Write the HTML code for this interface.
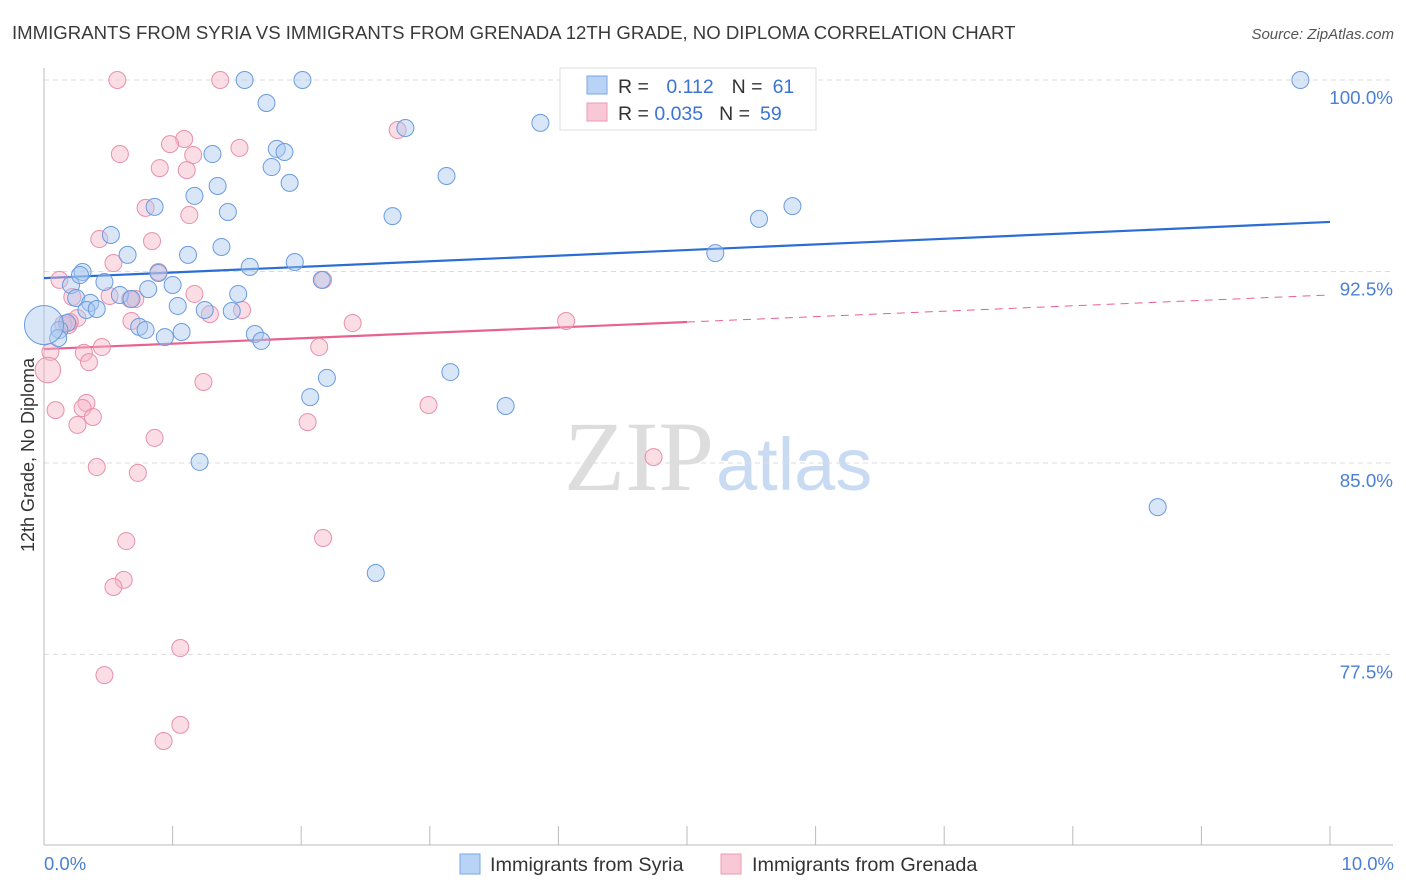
<!DOCTYPE html>
<html><head><meta charset="utf-8"><style>
body{margin:0;background:#fff;font-family:"Liberation Sans",sans-serif;}
svg{display:block}
</style></head><body>
<svg id="chart" width="1406" height="892" xmlns="http://www.w3.org/2000/svg">
<text x="12" y="39" font-size="18.6" fill="#3a3a3a">IMMIGRANTS FROM SYRIA VS IMMIGRANTS FROM GRENADA 12TH GRADE, NO DIPLOMA CORRELATION CHART</text>
<text x="1394" y="39" font-size="15" fill="#555" text-anchor="end" font-style="italic">Source: ZipAtlas.com</text>
<text x="714" y="490" font-size="100" text-anchor="end" fill="#ddd" font-family="Liberation Serif">ZIP</text>
<text x="716" y="490" font-size="74" fill="#c9dbf2">atlas</text>
<g id="grid"></g>
<g id="axes"></g>
<g id="trend"></g>
<g id="points"></g>
<text transform="translate(34,455) rotate(-90)" font-size="18" fill="#333" text-anchor="middle">12th Grade, No Diploma</text>
<text x="44" y="870" font-size="18.5" fill="#4a7fd4">0.0%</text>
<text x="1394" y="870" font-size="18.5" fill="#4a7fd4" text-anchor="end">10.0%</text>
<g>
<rect x="560" y="68" width="256" height="62" fill="#fff" stroke="#ddd"/>
<rect x="587" y="76" width="20" height="18" fill="#b8d3f5" stroke="#7aa6e6"/>
<rect x="587" y="103" width="20" height="18" fill="#f8c8d6" stroke="#ee9ab3"/>
<text x="618" y="93" font-size="19.5" fill="#333">R = <tspan fill="#3a74d4" dx="12">0.112</tspan><tspan fill="#333" dx="18">N =</tspan><tspan fill="#3a74d4" dx="10">61</tspan></text>
<text x="618" y="120" font-size="19.5" fill="#333">R = <tspan fill="#3a74d4">0.035</tspan><tspan fill="#333" dx="16">N =</tspan><tspan fill="#3a74d4" dx="10">59</tspan></text>
</g>
<g>
<rect x="460" y="854" width="20" height="20" fill="#b8d3f5" stroke="#7aa6e6"/>
<text x="490" y="871" font-size="19.8" fill="#333">Immigrants from Syria</text>
<rect x="721" y="854" width="20" height="20" fill="#f8c8d6" stroke="#ee9ab3"/>
<text x="752" y="871" font-size="19.8" fill="#333">Immigrants from Grenada</text>
</g>
</svg>
<script>
const yTicks=[100,92.5,85,77.5];
const yTickLabels=["100.0%","92.5%","85.0%","77.5%"];
const xTicks=[0,1,2,3,4,5,6,7,8,9,10];
const syriaX=[1.56,2.01,1.73,2.81,3.86,1.31,1.81,1.87,1.77,1.91,1.35,1.17,3.13,0.86,1.43,2.71,5.56,5.82,0.52,1.38,0.65,1.12,5.22,1.60,1.95,0.30,0.89,2.16,0.21,0.47,1.00,0.59,0.81,1.51,0.25,0.36,0.68,1.04,1.25,1.46,0.33,0.41,0.74,0.79,0.94,1.07,1.64,1.69,0.18,0.12,0.11,0.0,2.20,2.07,3.16,3.59,1.21,8.66,2.58,9.77,0.28];
const syriaY=[100,100,99.10,98.12,98.32,97.10,97.30,97.18,96.59,95.97,95.85,95.46,96.24,95.03,94.83,94.67,94.56,95.06,93.93,93.46,93.15,93.15,93.22,92.68,92.87,92.48,92.44,92.17,91.97,92.09,91.97,91.58,91.81,91.62,91.46,91.27,91.42,91.15,90.99,90.95,90.99,91.03,90.33,90.21,89.93,90.13,90.05,89.78,90.48,90.21,89.89,90.40,88.33,87.58,88.56,87.23,85.04,83.27,80.69,100,92.36];
const syriaSize=[1,1,1,1,1,1,1,1,1,1,1,1,1,1,1,1,1,1,1,1,1,1,1,1,1,1,1,1,1,1,1,1,1,1,1,1,1,1,1,1,1,1,1,1,1,1,1,1,1,1,1,2.3,1,1,1,1,1,1,1,1,1];
const grenX=[0.57,1.37,0.59,1.09,0.98,1.16,1.52,0.90,1.11,0.79,1.13,0.43,0.84,0.54,0.12,0.89,2.17,2.75,0.22,0.51,0.67,0.71,1.17,1.29,1.54,0.68,0.26,0.19,0.15,2.40,4.06,0.45,0.31,0.35,0.05,0.03,1.24,2.14,0.33,0.30,0.09,0.38,0.26,2.99,2.05,0.86,0.41,0.73,4.74,0.64,2.17,0.62,0.54,1.06,0.47,1.06,0.93,0.20];
const grenY=[100,100,97.10,97.69,97.49,97.06,97.34,96.55,96.47,94.99,94.71,93.77,93.69,92.83,92.17,92.48,92.17,98.04,91.50,91.54,91.42,91.42,91.62,90.83,90.99,90.56,90.68,90.40,90.44,90.48,90.56,89.54,89.31,88.95,89.35,88.64,88.17,89.54,87.35,87.15,87.07,86.80,86.49,87.27,86.60,85.98,84.84,84.61,85.23,81.94,82.06,80.42,80.14,77.75,76.69,74.74,74.11,90.52];
const grenSize=grenX.map((_,i)=>i===35?1.5:1);
const syriaTrend=[92.24,94.44];
const grenTrend=[89.46,91.58];
const grenSolidEnd=5;
const NS="http://www.w3.org/2000/svg";
const X=v=>44+v*128.6, Y=v=>80+(100-v)*25.53;
function mk(tag,attrs,parent){const e=document.createElementNS(NS,tag);for(const k in attrs)e.setAttribute(k,attrs[k]);parent.appendChild(e);return e;}
const grid=document.getElementById('grid'),axes=document.getElementById('axes'),trend=document.getElementById('trend'),pts=document.getElementById('points');
yTicks.forEach((t,i)=>{
 const l=mk('line',{x1:44,x2:1393,y1:Y(t),y2:Y(t),stroke:'#ddd','stroke-dasharray':'5,4'},grid);
 
 
 const tx=mk('text',{x:1393,y:Y(t)+24,'font-size':18.8,fill:'#4a7fd4','text-anchor':'end'},grid);
 tx.textContent=yTickLabels[i];
 
 
});
const ya=mk('line',{x1:44,x2:44,y1:68,y2:845,stroke:'#bbb'},axes);


const xa=mk('line',{x1:44,x2:1393,y1:845,y2:845,stroke:'#bbb'},axes);


xTicks.forEach(t=>{const l=mk('line',{x1:X(t),x2:X(t),y1:826,y2:845,stroke:'#bbb'},axes);
 
 });
function dots(xs,ys,sz,fill,stroke,name){xs.forEach((x,i)=>{const c=mk('circle',{cx:X(x),cy:Y(ys[i]),r:8.5*sz[i],fill:fill,stroke:stroke,'stroke-width':1,'fill-opacity':0.45},pts);
 
 });}
dots(grenX,grenY,grenSize,'#f6b3c8','#e890ab','grenada-point');
dots(syriaX,syriaY,syriaSize,'#a9c8f0','#6a9be0','syria-point');
const tb=mk('line',{x1:X(0),y1:Y(syriaTrend[0]),x2:X(10),y2:Y(syriaTrend[1]),stroke:'#2a6dd4','stroke-width':2.2},trend);


const gm=grenTrend[0]+(grenTrend[1]-grenTrend[0])*grenSolidEnd/10;
const tp=mk('line',{x1:X(0),y1:Y(grenTrend[0]),x2:X(grenSolidEnd),y2:Y(gm),stroke:'#e8628f','stroke-width':2.2},trend);


const td=mk('line',{x1:X(grenSolidEnd),y1:Y(gm),x2:X(10),y2:Y(grenTrend[1]),stroke:'#e8628f','stroke-width':1,'stroke-dasharray':'8,6'},trend);


</script>
</body></html>
